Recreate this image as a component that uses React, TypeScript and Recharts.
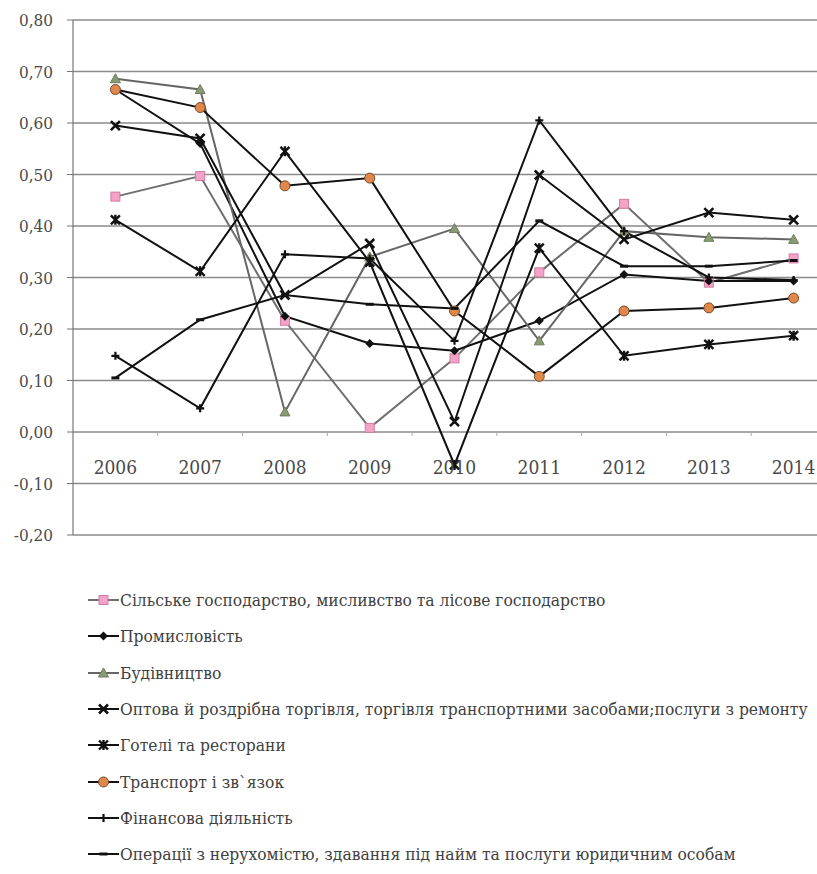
import React from 'react';
import { LineChart, Line, XAxis, YAxis, CartesianGrid } from 'recharts';

const years = ['2006', '2007', '2008', '2009', '2010', '2011', '2012', '2013', '2014'];

const agriculture = [0.457, 0.497, 0.216, 0.008, 0.143, 0.31, 0.443, 0.29, 0.337];
const industry = [0.665, 0.56, 0.225, 0.172, 0.158, 0.216, 0.306, 0.293, 0.293];
const construction = [0.686, 0.665, 0.039, 0.34, 0.395, 0.177, 0.39, 0.378, 0.374];
const trade = [0.595, 0.57, 0.266, 0.366, 0.02, 0.499, 0.374, 0.426, 0.412];
const hotels = [0.412, 0.312, 0.545, 0.33, -0.064, 0.357, 0.148, 0.17, 0.187];
const transport = [0.665, 0.63, 0.478, 0.493, 0.235, 0.108, 0.235, 0.241, 0.26];
const finance = [0.148, 0.046, 0.345, 0.337, 0.177, 0.605, 0.39, 0.3, 0.295];
const realEstate = [0.105, 0.218, 0.266, 0.248, 0.24, 0.41, 0.322, 0.322, 0.333];

const yTicks = [-0.2, -0.1, 0, 0.1, 0.2, 0.3, 0.4, 0.5, 0.6, 0.7, 0.8];

const FONT = "'DejaVu Serif Condensed', 'DejaVu Serif', serif";
const CHART_W = 840;
const Y_AXIS_W = 73;
const PLOT_RIGHT_PAD = 4;
const BAND = (CHART_W - Y_AXIS_W - PLOT_RIGHT_PAD) / years.length;

type Shape = 'square' | 'diamond' | 'triangle' | 'x' | 'star' | 'circle' | 'plus' | 'dash';

const series: { key: string; name: string; values: number[]; line: string; shape: Shape; fill: string; stroke: string }[] = [
  { key: 'agriculture', name: 'Сільське господарство, мисливство та лісове господарство', values: agriculture, line: '#6e6e6e', shape: 'square', fill: '#f3a3c6', stroke: '#d47ba3' },
  { key: 'industry', name: 'Промисловість', values: industry, line: '#111', shape: 'diamond', fill: '#111', stroke: '#111' },
  { key: 'construction', name: 'Будівництво', values: construction, line: '#666', shape: 'triangle', fill: '#8a9a72', stroke: '#6f7d5c' },
  { key: 'trade', name: 'Оптова й роздрібна торгівля, торгівля транспортними засобами;послуги з ремонту', values: trade, line: '#111', shape: 'x', fill: '#111', stroke: '#111' },
  { key: 'hotels', name: 'Готелі та ресторани', values: hotels, line: '#111', shape: 'star', fill: '#111', stroke: '#111' },
  { key: 'transport', name: 'Транспорт і зв`язок', values: transport, line: '#111', shape: 'circle', fill: '#e0874c', stroke: '#7a4a2a' },
  { key: 'finance', name: 'Фінансова діяльність', values: finance, line: '#111', shape: 'plus', fill: '#111', stroke: '#111' },
  { key: 'realEstate', name: 'Операції з нерухомістю, здавання під найм та послуги юридичним особам', values: realEstate, line: '#111', shape: 'dash', fill: '#111', stroke: '#111' },
];

const data = years.map((year, i) => {
  const row: Record<string, string | number> = { year };
  series.forEach((s) => {
    row[s.key] = s.values[i];
  });
  return row;
});

function marker(shape: Shape, cx: number, cy: number, fill: string, stroke: string, k?: string | number) {
  switch (shape) {
    case 'square':
      return <rect key={k} x={cx - 4.5} y={cy - 4.5} width={9} height={9} fill={fill} stroke={stroke} strokeWidth={1} />;
    case 'diamond':
      return <path key={k} d={`M${cx},${cy - 4.5}L${cx + 4.5},${cy}L${cx},${cy + 4.5}L${cx - 4.5},${cy}Z`} fill={fill} />;
    case 'triangle':
      return <path key={k} d={`M${cx},${cy - 5}L${cx + 5},${cy + 4}L${cx - 5},${cy + 4}Z`} fill={fill} stroke={stroke} strokeWidth={1} />;
    case 'x':
      return (
        <path key={k} d={`M${cx - 4.5},${cy - 4.5}L${cx + 4.5},${cy + 4.5}M${cx + 4.5},${cy - 4.5}L${cx - 4.5},${cy + 4.5}`} stroke={stroke} strokeWidth={2.6} />
      );
    case 'star':
      return (
        <path
          key={k}
          d={`M${cx - 4.5},${cy - 4.5}L${cx + 4.5},${cy + 4.5}M${cx + 4.5},${cy - 4.5}L${cx - 4.5},${cy + 4.5}M${cx},${cy - 5}L${cx},${cy + 5}`}
          stroke={stroke}
          strokeWidth={2.4}
        />
      );
    case 'circle':
      return <circle key={k} cx={cx} cy={cy} r={5} fill={fill} stroke={stroke} strokeWidth={1} />;
    case 'plus':
      return <path key={k} d={`M${cx - 4},${cy}L${cx + 4},${cy}M${cx},${cy - 4}L${cx},${cy + 4}`} stroke={stroke} strokeWidth={2.2} />;
    case 'dash':
    default:
      return <path key={k} d={`M${cx - 4},${cy}L${cx + 4},${cy}`} stroke={stroke} strokeWidth={3} />;
  }
}

const yFormat = (v: number) => v.toFixed(2).replace('.', ',');

const YearTick = (props: any) => {
  const { x, y, payload, index } = props;
  return (
    <g>
      {index > 0 && <line x1={x - BAND / 2} x2={x - BAND / 2} y1={y - 103} y2={y - 99} stroke="#aaa" strokeWidth={1} />}
      <text x={x} y={y - 61} textAnchor="middle" style={{ fontFamily: FONT, fontStretch: 'condensed' }} fontSize={19} fill="#4a4a4a">
        {payload.value}
      </text>
    </g>
  );
};

export default function App() {
  return (
    <div style={{ position: 'absolute', left: 0, top: 0, width: 817, height: 874, overflow: 'hidden', background: '#fff' }}>
      <LineChart width={CHART_W} height={560} data={data} margin={{ top: 20, right: PLOT_RIGHT_PAD, bottom: 0, left: 0 }}>
        <CartesianGrid vertical={false} stroke="#8a8a8a" strokeWidth={1.5} />
        <XAxis
          dataKey="year"
          height={25}
          axisLine={false}
          tickLine={false}
          tickSize={0}
          tickMargin={0}
          tick={<YearTick />}
          interval={0}
          padding={{ left: BAND / 2, right: BAND / 2 }}
        />
        <YAxis
          width={Y_AXIS_W}
          domain={[-0.2, 0.8]}
          ticks={yTicks}
          tickFormatter={yFormat}
          axisLine={{ stroke: '#777', strokeWidth: 1.2 }}
          tickLine={{ stroke: '#777' }}
          tickSize={6}
          tickMargin={14}
          tick={{ fontSize: 17, fill: '#4a4a4a', style: { fontFamily: FONT, fontStretch: 'condensed' } }}
        />
        {series.map((s) => (
          <Line
            key={s.key}
            dataKey={s.key}
            name={s.name}
            stroke={s.line}
            strokeWidth={2}
            isAnimationActive={false}
            dot={(p: any) => marker(s.shape, p.cx, p.cy, s.fill, s.stroke, `${s.key}-${p.index}`)}
            activeDot={false}
          />
        ))}
      </LineChart>
      <div style={{ position: 'absolute', left: 88, top: 582 }}>
        {series.map((s) => (
          <div key={s.key} style={{ display: 'flex', alignItems: 'center', height: 36.3, whiteSpace: 'nowrap' }}>
            <svg width={31} height={14} style={{ flex: 'none' }}>
              <line x1={0} x2={31} y1={7} y2={7} stroke={s.line} strokeWidth={2} />
              {marker(s.shape, 15.5, 7, s.fill, s.stroke)}
            </svg>
            <span style={{ fontSize: 17.3, color: '#404040', marginLeft: 1, fontFamily: FONT, fontStretch: 'condensed' }}>{s.name}</span>
          </div>
        ))}
      </div>
    </div>
  );
}
